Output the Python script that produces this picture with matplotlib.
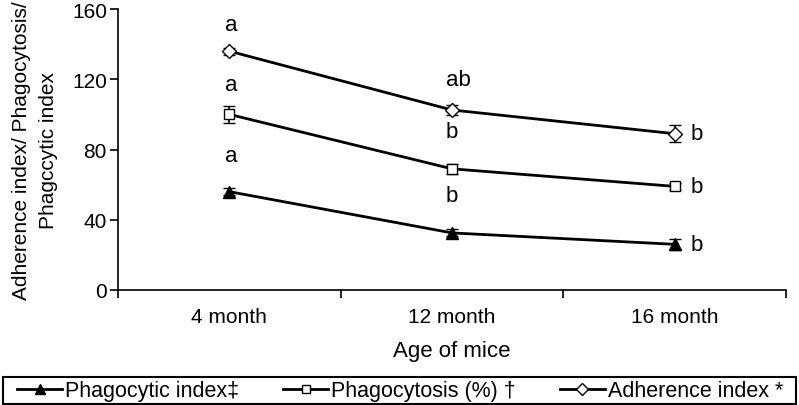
import matplotlib
matplotlib.use("Agg")
import matplotlib.pyplot as plt
from matplotlib.ticker import FixedLocator
from matplotlib.lines import Line2D
from matplotlib.patches import Rectangle

plt.rcParams['font.family'] = ['Liberation Sans', 'DejaVu Sans']

categories = ["4 month", "12 month", "16 month"]
adherence = [136, 102.5, 89]
adherence_err = [2, 3, 5]
phagocytosis = [100, 69, 59]
phagocytosis_err = [5, 3, 2]
phag_index = [56, 32.5, 26]
phag_index_err = [2, 2, 3]

adh_letters = ["a", "ab", "b"]
phs_letters = ["a", "b", "b"]
phi_letters = ["a", "b", "b"]

fig = plt.figure(figsize=(7.99, 4.06), dpi=100)
ax = fig.add_axes([0.1477, 0.2833, 0.836, 0.692])
x = [1, 2, 3]

ax.errorbar(x, phag_index, yerr=phag_index_err, color='black', lw=2, marker='^',
            ms=8, mfc='black', mec='black', capsize=4, elinewidth=1.2)
ax.errorbar(x, phagocytosis, yerr=phagocytosis_err, color='black', lw=2, marker='s',
            ms=6.5, mfc='white', mec='black', mew=1, capsize=4, elinewidth=1.2)
ax.errorbar(x, adherence, yerr=adherence_err, color='black', lw=2, marker='D',
            ms=7.5, mfc='white', mec='black', mew=1, capsize=4, elinewidth=1.2)

fs = 16
def pt(px):
    return px * 0.72

# 4 month: above each point
ax.annotate(adh_letters[0], (x[0], adherence[0]), xytext=(pt(2), pt(27)),
            textcoords='offset points', ha='center', va='center', fontsize=fs)
ax.annotate(phs_letters[0], (x[0], phagocytosis[0]), xytext=(pt(2), pt(30)),
            textcoords='offset points', ha='center', va='center', fontsize=fs)
ax.annotate(phi_letters[0], (x[0], phag_index[0]), xytext=(pt(2), pt(36)),
            textcoords='offset points', ha='center', va='center', fontsize=fs)
# 12 month
ax.annotate(adh_letters[1], (x[1], adherence[1]), xytext=(pt(6), pt(30)),
            textcoords='offset points', ha='center', va='center', fontsize=fs)
ax.annotate(phs_letters[1], (x[1], adherence[1]), xytext=(0, pt(-22)),
            textcoords='offset points', ha='center', va='center', fontsize=fs)
ax.annotate(phi_letters[1], (x[1], phagocytosis[1]), xytext=(0, pt(-27)),
            textcoords='offset points', ha='center', va='center', fontsize=fs)
# 16 month: right of each point
for vals, lets in [(adherence, adh_letters), (phagocytosis, phs_letters), (phag_index, phi_letters)]:
    ax.annotate(lets[2], (x[2], vals[2]), xytext=(pt(22), 0), textcoords='offset points',
                ha='center', va='center', fontsize=fs)

ax.set_xlim(0.5, 3.5)
ax.set_ylim(0, 160)
ax.set_yticks([0, 40, 80, 120, 160])
ax.set_xticks(x)
ax.set_xticklabels(categories)
ax.xaxis.set_minor_locator(FixedLocator([0.5, 1.5, 2.5, 3.5]))
ax.tick_params(axis='x', which='major', length=0, labelsize=15, pad=12)
ax.tick_params(axis='x', which='minor', length=6, width=1.2, direction='out')
ax.tick_params(axis='y', labelsize=15, length=6, width=1.2, direction='out', pad=2)
ax.spines['top'].set_visible(False)
ax.spines['right'].set_visible(False)
ax.spines['left'].set_linewidth(1.2)
ax.spines['bottom'].set_linewidth(1.2)

ax.set_xlabel("Age of mice", fontsize=16, labelpad=10)
ax.set_ylabel("Adherence index/ Phagocytosis/\nPhagccytic index", fontsize=15,
              labelpad=10, linespacing=1.55)

handles = [
    Line2D([], [], color='black', lw=2, marker='^', ms=7, mfc='black', mec='black'),
    Line2D([], [], color='black', lw=2, marker='s', ms=5.5, mfc='white', mec='black', mew=1),
    Line2D([], [], color='black', lw=2, marker='D', ms=6, mfc='white', mec='black', mew=1),
]
labels = ['Phagocytic index‡', 'Phagocytosis (%) †', 'Adherence index *']
leg = fig.legend(handles, labels, loc='center left', ncol=3, fontsize=15.5,
                 bbox_to_anchor=(17 / 799, 14 / 406, 766 / 799, 0.0),
                 bbox_transform=fig.transFigure,
                 frameon=False, handlelength=2.1, handletextpad=0.14,
                 borderpad=0, borderaxespad=0, mode='expand')
fig.patches.append(Rectangle((3 / 799, 1 / 406), 793 / 799, 27 / 406,
                             transform=fig.transFigure, fill=False,
                             edgecolor='black', linewidth=1.5))

fig.savefig("out.png", dpi=100)
